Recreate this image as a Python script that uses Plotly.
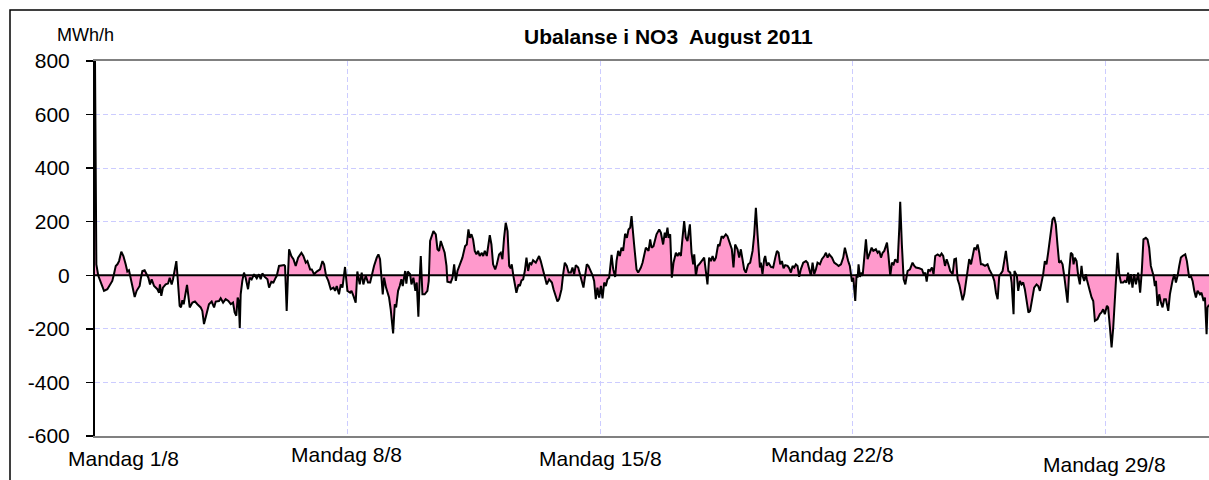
import plotly.graph_objects as go

# Hour of month (0 = Monday 1/8 00:00) and imbalance in MWh/h
hours = [
    0, 0.9, 2.2, 6.0, 8.2, 11.5, 12.6, 13.8, 14.9, 16.0, 17.5, 18.9, 20.4, 21.5, 22.6, 23.7,
    25.5, 26.4, 27.7, 29.7, 30.4, 31.5, 33.0, 34.2, 35.5, 36.6, 37.7, 39.3, 41.5, 42.6, 43.2,
    44.1, 45.2, 47.0, 48.6, 49.7, 51.0, 51.9, 53.0, 54.1, 54.8, 55.4, 56.3, 57.2, 58.1, 59.0,
    59.9, 61.2, 62.1, 63.0, 64.8, 66.5, 68.1, 70.3, 71.4, 72.5, 73.6, 74.7, 75.8, 77.6, 79.2,
    80.3, 82.5, 83.6, 85.2, 86.9, 88.7, 90.3, 91.8, 92.9, 94.0, 94.9, 95.6, 96.3, 96.9, 98.0,
    99.1, 100.2, 101.8, 102.9, 104.2, 105.8, 107.6, 109.1, 110.2, 111.3, 112.9, 114.7, 115.8,
    117.3, 118.7, 120.2, 120.9, 122.4, 125.8, 126.4, 127.5, 128.4, 129.1, 130.6, 132.0, 133.5,
    135.1, 137.3, 138.6, 140.2, 141.3, 143.1, 144.2, 145.7, 147.5, 149.7, 151.3, 152.4, 153.7,
    155.2, 156.8, 158.6, 159.7, 160.8, 162.3, 163.5, 164.6, 166.3, 167.9, 169.7, 170.6, 171.9,
    173.4, 174.5, 176.1, 177.4, 178.5, 180.1, 181.6, 183.0, 184.1, 185.6, 187.4, 188.5, 189.6,
    190.5, 191.4, 192.3, 193.6, 195.6, 196.7, 198.3, 199.4, 200.3, 201.6, 202.7, 203.8, 204.7,
    206.3, 207.1, 208.0, 209.6, 210.5, 211.8, 213.1, 214.0, 215.1, 216.0, 216.7, 217.8, 219.3,
    221.1, 222.0, 222.9, 224.0, 225.1, 226.7, 227.8, 228.9, 230.0, 231.5, 232.6, 233.8, 234.4,
    236.6, 237.8, 238.9, 240.0, 241.1, 243.3, 244.4, 246.2, 247.3, 248.4, 249.3, 250.4, 251.5,
    252.6, 253.7, 254.8, 255.9, 257.3, 258.2, 259.3, 260.6, 262.6, 263.7, 264.8, 266.2, 267.3,
    268.8, 269.9, 271.0, 272.1, 273.2, 274.4, 275.5, 276.6, 277.2, 278.4, 279.5, 280.3, 281.7,
    282.6, 283.7, 284.8, 285.9, 287.0, 288.1, 289.2, 290.3, 291.4, 293.2, 294.5, 295.4, 296.5,
    297.6, 299.4, 300.5, 302.1, 303.9, 305.0, 306.5, 307.6, 308.7, 310.3, 311.4, 312.5, 313.8,
    315.0, 316.5, 317.6, 318.7, 319.8, 321.4, 322.7, 323.6, 324.9, 326.0, 327.1, 328.2, 329.4,
    330.9, 332.0, 333.1, 334.2, 335.3, 336.5, 337.6, 338.7, 339.8, 340.9, 342.0, 343.6, 344.7,
    346.0, 346.9, 348.0, 349.1, 350.2, 351.3, 352.6, 353.8, 354.9, 356.0, 356.9, 357.5, 358.6,
    360.2, 361.3, 363.1, 364.2, 366.4, 368.2, 369.3, 370.2, 371.5, 373.5, 375.3, 376.4, 377.9,
    379.0, 379.7, 380.8, 381.5, 382.6, 383.7, 384.8, 386.4, 387.5, 388.6, 389.7, 390.8, 391.9,
    393.0, 394.1, 395.7, 396.8, 397.9, 398.6, 399.7, 400.8, 401.9, 403.4, 405.2, 406.3, 407.4,
    408.5, 409.7, 410.8, 411.9, 413.0, 414.5, 415.4, 416.8, 417.9, 419.6, 420.7, 422.3, 423.6,
    424.7, 425.8, 427.4, 428.5, 429.6, 430.7, 431.8, 432.9, 434.5, 435.8, 437.4, 438.5, 439.6,
    440.7, 442.3, 442.9, 444.0, 445.1, 445.8, 446.9, 448.0, 449.6, 451.1, 452.5, 453.6, 454.7,
    455.8, 456.9, 458.0, 459.1, 460.7, 461.8, 462.9, 464.0, 465.1, 466.2, 467.3, 468.4, 469.5,
    471.1, 472.9, 474.0, 476.2, 477.3, 478.4, 479.5, 480.6, 482.2, 483.5, 485.1, 486.2, 487.3,
    488.4, 490.2, 491.7, 493.3, 494.6, 496.2, 497.7, 498.8, 499.9, 501.0, 502.1, 503.5, 504.4,
    505.7, 506.6, 507.3, 507.9, 508.8, 509.9, 510.6, 511.7, 512.8, 513.9, 515.0, 516.6, 517.7,
    519.4, 520.6, 521.7, 522.8, 523.9, 525.0, 526.8, 527.7, 529.0, 530.1, 531.2, 532.3, 533.9,
    535.0, 535.6, 536.7, 537.9, 539.0, 540.5, 542.1, 543.8, 545.0, 546.1, 548.3, 550.1, 551.2,
    552.3, 553.2, 554.3, 555.4, 556.7, 557.8, 558.9, 560.5, 562.0, 563.1, 564.2, 565.4, 566.5,
    567.6, 568.9, 570.5, 571.6, 572.7, 573.8, 574.9, 576.0, 577.1, 578.2, 579.3, 580.4, 581.5,
    582.7, 583.8, 584.9, 586.0, 587.1, 588.2, 589.3, 590.4, 592.0, 593.7, 594.9, 597.1, 598.2,
    599.3, 600.4, 601.5, 602.6, 603.7, 604.8, 605.9, 607.5, 608.8, 609.7, 611.0, 611.6, 613.2,
    614.1, 615.2, 616.3, 617.4, 618.5, 619.6, 620.9, 622.0, 623.6, 624.7, 626.3, 627.4, 628.5,
    629.6, 630.7, 631.8, 632.9, 634.0, 635.8, 636.9, 638.0, 639.1, 640.2, 641.3, 642.5, 643.6,
    644.7, 645.8, 646.9, 648.0, 649.1, 650.2, 650.9, 651.8, 652.9, 654.0, 655.1, 656.2, 656.9,
    658.0, 659.1, 659.7, 660.6, 661.7, 662.9, 664.0, 665.1, 666.8, 668.4, 669.5, 670.6, 671.7,
    673.1, 673.9, 675.1, 676.2, 677.3, 678.4, 679.3, 680.2, 681.3, 682.4, 683.9, 685.0, 686.1,
    687.2, 687.9, 689.0, 690.1, 691.2, 692.4, 693.9, 695.2, 696.3, 697.4, 699.0, 700.1, 701.2,
    702.3, 704.1, 705.0, 705.7, 706.8, 707.9, 709.0, 710.1, 711.2, 712.3, 713.9, 715.0, 716.7,
    717.9, 719.0, 720.1, 721.2, 722.3, 723.4, 725.2, 726.3, 727.8, 728.9, 730.1, 731.2, 732.3,
    733.4, 735.0, 736.0, 737.4, 738.3, 739.4, 740.0, 741.0,
]

imbalance = [
    800, 41, -2, -58, -52, -21, 4, 35, 41, 53, 88, 72, 41, 14, 19, -9,
    -52, -81, -58, -40, -15, 16, 19, 6, -9, -34, -15, -40, -52, -65, -34,
    -77, -46, -34, -31, -9, -34, -15, 22, 53, 4, -58, -114, -120, -93, -108,
    -83, -36, -77, -120, -102, -98, -108, -120, -133, -182, -158, -127, -108, -98, -120,
    -98, -96, -86, -102, -89, -96, -108, -102, -139, -151, -83, -96, -197, -71, -21,
    10, -9, -52, -9, -15, 4, -11, 4, -15, 7, -6, -15, -46,
    -24, -27, -9, -2, 35, 38, 35, -133, 4, 97, 72, 60, 35,
    66, 84, 72, 47, 53, 22, 22, 4, 14, 22, 53, 41, -2,
    -21, -52, -46, -58, -40, -71, -34, -46, 31, -58, -65, -58, -77,
    -102, 14, -34, 10, -34, -2, -27, -27, 4, 35, 66, 78, 60,
    -2, -71, -9, -46, -83, -127, -217, -108, -120, -58, -40, -15, -40,
    16, -31, 14, 4, -34, -9, -58, -27, -155, -9, 72, -71, -71,
    -58, -21, 128, 146, 165, 153, 97, 91, 128, 103, 84, 35, -24,
    -27, -9, 41, -21, 16, 47, 66, 109, 115, 171, 140, 153, 134,
    91, 78, 91, 72, 84, 72, 91, 72, 150, 115, 41, 22, 41,
    78, 84, 60, 140, 196, 165, 35, 26, 41, -6, -52, -65, -34,
    -40, -19, -15, 16, 66, 16, 47, 41, 56, 47, 60, 72, 53,
    29, -9, -34, -15, -27, -52, -83, -98, -89, -52, 4, 47, 35,
    10, 10, 29, 4, 38, 29, 4, -15, -46, -2, 41, 35, 22,
    1, -21, -89, -46, -83, -40, -86, -27, -40, -15, -9, 76, 22,
    -6, 53, 91, 72, 103, 91, 155, 140, 171, 178, 221, 190, 115,
    22, 10, 29, 47, 103, 91, 134, 103, 109, 153, 171, 159, 115,
    159, 140, 178, 140, 153, -9, 47, 84, 72, 84, 72, 140, 202,
    140, 128, 190, 84, 41, 78, -2, 35, 41, 53, 66, 16, -34,
    66, 53, 72, 53, 66, 115, 109, 146, 140, 153, 146, 115, 97,
    29, 115, 97, 66, 97, 60, 22, 10, 41, 47, 91, 153, 252,
    153, 29, 47, 4, 60, 72, 35, 47, 31, 29, 66, 91, 84,
    41, 53, 26, 38, 35, 26, 10, 35, 29, 41, 35, -6, 22,
    47, 53, 47, -2, 47, 4, 22, 47, 41, 60, 72, 84, 66,
    78, 66, 47, 41, 35, 41, 66, 103, 72, 53, 35, -24, -9,
    -96, 4, -9, 41, -6, 10, -2, 66, 134, 60, 78, 103, 91,
    97, 84, 91, 66, 84, 91, 122, 78, -2, 47, 41, 60, 47,
    178, 274, 115, -15, -34, 16, 22, 47, 35, 29, 26, 22, 4,
    10, -24, 22, 16, 29, 4, 72, 78, 72, 81, 72, 35, 60,
    41, 16, 4, 60, 62, -15, -34, -71, -93, -71, -27, 22, 60,
    41, 72, 103, 97, 115, 84, 41, 41, 35, 41, 22, -2, -21,
    -65, -89, -2, 10, 16, 53, 91, 16, 10, -27, -145, 16, -2,
    -58, -21, -34, -27, -52, -96, -139, -133, -83, -46, -34, -40, -58,
    -27, 4, 53, 41, 84, 165, 209, 217, 190, 115, 47, 53, 41,
    -2, -52, -102, 16, 84, 78, 41, 66, 53, -2, -34, 35, -2,
    -21, 4, -15, -40, -58, -83, -96, -170, -164, -145, -139, -127, -145,
    -114, -120, -195, -269, -195, -83, -9, 84, 4, -27, -27, -21, -27,
    10, -34, 4, -46, 4, -34, 10, -65, 16, 134, 140, 134, 103,
    35, -2, -40, -21, -114, -71, -102, -120, -89, -89, -133, -71, -21,
    4, -27, -2, 35, 66, 72, 78, 53, -9, -2, -21, -58, -83,
    -58, -71, -65, -96, -83, -220, -120, -110,
]

y_ticks = [-600, -400, -200, 0, 200, 400, 600, 800]
y_tick_text = ["-600", "-400", "-200", "0", "200", "400", "600", "800"]
week_starts = [0, 168, 336, 504, 672]
week_labels = ["Mandag 1/8", "Mandag 8/8", "Mandag 15/8", "Mandag 22/8", "Mandag 29/8"]
label_xshift = [28, -1, 0, -20, -1]
label_ypx = [459, 454, 458, 454, 465]

FONT = "Liberation Sans, Arial, sans-serif"
GRID = "#ccccff"

fig = go.Figure()
fig.add_trace(go.Scatter(
    x=hours, y=imbalance, mode="lines",
    line=dict(color="black", width=2),
    fill="tozeroy", fillcolor="#ff99cc",
    hoverinfo="skip", showlegend=False,
))

PLOT_L, PLOT_T, PLOT_B = 95, 61, 436
W, H = 1209, 480
plot_w = W - PLOT_L
plot_h = PLOT_B - PLOT_T

fig.update_layout(
    width=W, height=H,
    margin=dict(l=PLOT_L, r=0, t=PLOT_T, b=H - PLOT_B, pad=0),
    paper_bgcolor="white", plot_bgcolor="white",
    font=dict(family=FONT, color="black"),
    xaxis=dict(
        range=[0, 741], tickvals=week_starts[1:], showticklabels=False, ticks="",
        showgrid=True, gridcolor=GRID, griddash="5px,3px", gridwidth=1,
        showline=True, linecolor="#808080", linewidth=2, mirror=True,
        zeroline=False,
    ),
    yaxis=dict(
        range=[-600, 800], tickvals=y_ticks, ticktext=y_tick_text,
        ticks="outside", ticklen=7, tickcolor="black", tickwidth=1.5,
        tickfont=dict(size=21, family=FONT, color="black"),
        ticklabelstandoff=12,
        showgrid=True, gridcolor=GRID, griddash="5px,3px", gridwidth=1,
        showline=True, linecolor="black", linewidth=2,
        zeroline=False,
    ),
)

annotations = [
    dict(text="<b>Ubalanse i NO3  August 2011</b>", xref="paper", yref="paper",
         x=(668 - PLOT_L) / plot_w, y=(PLOT_B - 36) / plot_h,
         xanchor="center", yanchor="middle", showarrow=False,
         font=dict(size=21, family=FONT, color="black")),
    dict(text="MWh/h", xref="paper", yref="paper",
         x=(85 - PLOT_L) / plot_w, y=(PLOT_B - 35) / plot_h,
         xanchor="center", yanchor="middle", showarrow=False,
         font=dict(size=18, family=FONT, color="black")),
]
for wx, lab, xs, ypx in zip(week_starts, week_labels, label_xshift, label_ypx):
    annotations.append(dict(
        text=lab, x=wx, xref="x", y=(PLOT_B - ypx) / plot_h, yref="paper",
        xshift=xs, xanchor="center", yanchor="middle", showarrow=False,
        font=dict(size=21, family=FONT, color="black"),
    ))
fig.update_layout(annotations=annotations)

# zero baseline drawn over the fill
fig.add_shape(type="line", xref="paper", yref="y", x0=0, x1=1, y0=0, y1=0,
              line=dict(color="black", width=2), layer="above")

# outer chart border (cropped on the right and bottom)
fig.add_shape(type="rect", xref="paper", yref="paper",
              x0=(10 - PLOT_L) / plot_w, x1=1.05,
              y0=-0.3, y1=(PLOT_B - 10) / plot_h,
              line=dict(color="black", width=1.5), fillcolor="rgba(0,0,0,0)", layer="above")

fig.write_html(
    "out.html",
    config={"displayModeBar": False, "staticPlot": True},
    post_script="document.body.style.margin='0';document.body.style.overflow='hidden';",
)
